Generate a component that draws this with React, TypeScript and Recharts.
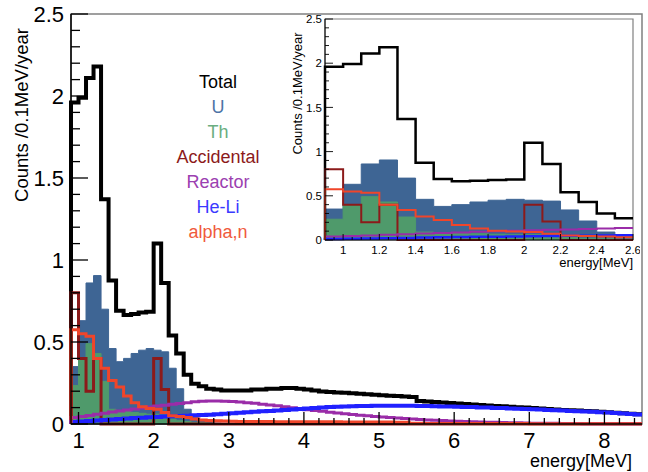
import React from 'react';
import { ComposedChart, Area, Line, XAxis, YAxis, ReferenceArea, Legend } from 'recharts';

// lower edge of each 0.1 MeV bin
const energyBins = [
  0.9, 1.0, 1.1, 1.2, 1.3, 1.4, 1.5, 1.6, 1.7, 1.8, 1.9,
  2.0, 2.1, 2.2, 2.3, 2.4, 2.5, 2.6, 2.7, 2.8, 2.9,
  3.0, 3.1, 3.2, 3.3, 3.4, 3.5, 3.6, 3.7, 3.8, 3.9,
  4.0, 4.1, 4.2, 4.3, 4.4, 4.5, 4.6, 4.7, 4.8, 4.9,
  5.0, 5.1, 5.2, 5.3, 5.4, 5.5, 5.6, 5.7, 5.8, 5.9,
  6.0, 6.1, 6.2, 6.3, 6.4, 6.5, 6.6, 6.7, 6.8, 6.9,
  7.0, 7.1, 7.2, 7.3, 7.4, 7.5, 7.6, 7.7, 7.8, 7.9,
  8.0, 8.1, 8.2, 8.3, 8.4,
];

const totalCounts = [
  1.96, 1.99, 2.11, 2.18, 1.37, 0.875, 0.69, 0.665, 0.67, 0.68, 0.685,
  1.1, 0.86, 0.54, 0.43, 0.3, 0.245, 0.23, 0.215, 0.21, 0.205,
  0.205, 0.205, 0.205, 0.21, 0.21, 0.215, 0.215, 0.22, 0.22, 0.215,
  0.21, 0.205, 0.198, 0.195, 0.192, 0.19, 0.187, 0.184, 0.181, 0.178,
  0.175, 0.172, 0.17, 0.167, 0.164, 0.14, 0.137, 0.134, 0.131, 0.128,
  0.125, 0.122, 0.119, 0.116, 0.113, 0.11, 0.108, 0.105, 0.102, 0.1,
  0.098, 0.095, 0.092, 0.089, 0.086, 0.084, 0.082, 0.079, 0.077, 0.075,
  0.072, 0.069, 0.066, 0.063, 0.06,
];

const uCounts = [
  0.35, 0.63, 0.86, 0.905, 0.7, 0.46, 0.38, 0.4, 0.43, 0.45, 0.46,
  0.45, 0.44, 0.34, 0.215, 0.09, 0.04, 0.02, 0.01, 0.005, 0,
  0, 0, 0, 0, 0, 0, 0, 0, 0, 0,
  0, 0, 0, 0, 0, 0, 0, 0, 0, 0,
  0, 0, 0, 0, 0, 0, 0, 0, 0, 0,
  0, 0, 0, 0, 0, 0, 0, 0, 0, 0,
  0, 0, 0, 0, 0, 0, 0, 0, 0, 0,
  0, 0, 0, 0, 0,
];

const thCounts = [
  0.235, 0.4, 0.49, 0.43, 0.26, 0.09, 0.08, 0.075, 0.07, 0.065, 0.06,
  0.06, 0.055, 0.03, 0.02, 0.015, 0.01, 0.008, 0.005, 0.003, 0,
  0, 0, 0, 0, 0, 0, 0, 0, 0, 0,
  0, 0, 0, 0, 0, 0, 0, 0, 0, 0,
  0, 0, 0, 0, 0, 0, 0, 0, 0, 0,
  0, 0, 0, 0, 0, 0, 0, 0, 0, 0,
  0, 0, 0, 0, 0, 0, 0, 0, 0, 0,
  0, 0, 0, 0, 0,
];

const accidentalCounts = [
  0.8, 0.4, 0.2, 0.4, 0, 0, 0, 0, 0, 0, 0,
  0.4, 0.21, 0, 0, 0, 0, 0, 0, 0, 0,
  0, 0, 0, 0, 0, 0, 0, 0, 0, 0,
  0, 0, 0, 0, 0, 0, 0, 0, 0, 0,
  0, 0, 0, 0, 0, 0, 0, 0, 0, 0,
  0, 0, 0, 0, 0, 0, 0, 0, 0, 0,
  0, 0, 0, 0, 0, 0, 0, 0, 0, 0,
  0, 0, 0, 0, 0,
];

const reactorCounts = [
  0.04, 0.045, 0.052, 0.06, 0.066, 0.073, 0.08, 0.086, 0.092, 0.098, 0.104,
  0.11, 0.115, 0.12, 0.125, 0.13, 0.135, 0.138, 0.14, 0.14, 0.139,
  0.137, 0.134, 0.13, 0.126, 0.121, 0.116, 0.111, 0.105, 0.099, 0.093,
  0.087, 0.082, 0.077, 0.072, 0.067, 0.062, 0.058, 0.054, 0.05, 0.046,
  0.042, 0.039, 0.036, 0.033, 0.03, 0.027, 0.025, 0.023, 0.021, 0.019,
  0.017, 0.015, 0.014, 0.012, 0.011, 0.01, 0.009, 0.008, 0.007, 0.006,
  0.005, 0.005, 0.004, 0.004, 0.003, 0.003, 0.003, 0.002, 0.002, 0.002,
  0.002, 0.001, 0.001, 0.001, 0.001,
];

const heliCounts = [
  0.012, 0.015, 0.018, 0.021, 0.024, 0.027, 0.03, 0.033, 0.036, 0.038, 0.041,
  0.043, 0.045, 0.047, 0.049, 0.051, 0.053, 0.055, 0.057, 0.06, 0.062,
  0.065, 0.068, 0.071, 0.074, 0.077, 0.08, 0.083, 0.086, 0.089, 0.092,
  0.095, 0.098, 0.1, 0.103, 0.105, 0.107, 0.108, 0.109, 0.11, 0.111,
  0.112, 0.112, 0.112, 0.111, 0.111, 0.11, 0.109, 0.108, 0.107, 0.106,
  0.105, 0.104, 0.103, 0.101, 0.1, 0.098, 0.097, 0.095, 0.093, 0.091,
  0.09, 0.088, 0.086, 0.084, 0.082, 0.08, 0.078, 0.076, 0.074, 0.072,
  0.07, 0.067, 0.064, 0.061, 0.058,
];

const alphaNCounts = [
  0.575, 0.55, 0.535, 0.4, 0.34, 0.265, 0.225, 0.17, 0.13, 0.105, 0.095,
  0.09, 0.07, 0.05, 0.045, 0.04, 0.03, 0.025, 0.022, 0.02, 0.018,
  0.017, 0.016, 0.016, 0.015, 0.015, 0.015, 0.014, 0.014, 0.014, 0.014,
  0.013, 0.013, 0.013, 0.013, 0.013, 0.012, 0.012, 0.012, 0.012, 0.012,
  0.012, 0.012, 0.011, 0.011, 0.004, 0.004, 0.003, 0.003, 0.003, 0.003,
  0.003, 0.003, 0.003, 0.003, 0.003, 0.003, 0.003, 0.003, 0.003, 0.003,
  0.002, 0.002, 0.002, 0.002, 0.002, 0.002, 0.002, 0.002, 0.002, 0.002,
  0.002, 0.002, 0.002, 0.002, 0.002,
];

const mainXLabels = [1, 2, 3, 4, 5, 6, 7, 8];
const mainYLabels = [0, 0.5, 1, 1.5, 2, 2.5];
const insetXLabels = [1, 1.2, 1.4, 1.6, 1.8, 2, 2.2, 2.4, 2.6];
const insetYLabels = [0, 0.5, 1, 1.5, 2, 2.5];

const FONT = '"Liberation Sans", Arial, Helvetica, sans-serif';

type Series = {
  key: string;
  name: string;
  values: number[];
  color: string;
  textColor: string;
  filled?: boolean;
  width: number;
  insetWidth: number;
};

const SERIES: Series[] = [
  { key: 'total', name: 'Total', values: totalCounts, color: '#000000', textColor: '#000000', width: 4, insetWidth: 2.5 },
  { key: 'u', name: 'U', values: uCounts, color: '#3e6594', textColor: '#4d74a6', filled: true, width: 1, insetWidth: 1 },
  { key: 'th', name: 'Th', values: thCounts, color: '#4f9a6b', textColor: '#6aae80', filled: true, width: 1, insetWidth: 1 },
  { key: 'acc', name: 'Accidental', values: accidentalCounts, color: '#8c1a1a', textColor: '#8c1a1a', width: 3, insetWidth: 2 },
  { key: 'reactor', name: 'Reactor', values: reactorCounts, color: '#9a2ca8', textColor: '#9b40b0', width: 3, insetWidth: 2 },
  { key: 'heli', name: 'He-Li', values: heliCounts, color: '#2020ff', textColor: '#3a3aff', width: 4, insetWidth: 2.5 },
  { key: 'alpha', name: 'alpha,n', values: alphaNCounts, color: '#f0452a', textColor: '#f05a3c', width: 3, insetWidth: 2 },
];

// draw order as in the original canvas
const DRAW_ORDER = ['u', 'th', 'total', 'acc', 'reactor', 'heli', 'alpha'];

const range = (from: number, to: number, step: number) => {
  const out: number[] = [];
  for (let v = from; v <= to + 1e-9; v += step) out.push(Math.round(v * 100) / 100);
  return out;
};

// histogram rows: start at zero, one row per bin, closing row at the upper edge
const buildRows = (binCount: number, upperEdge: number) => {
  const rows: Record<string, number>[] = [];
  const start: Record<string, number> = { e: energyBins[0] };
  SERIES.forEach((s) => (start[s.key] = 0));
  rows.push(start);
  for (let i = 0; i < binCount; i++) {
    const row: Record<string, number> = { e: energyBins[i] };
    SERIES.forEach((s) => (row[s.key] = s.values[i]));
    rows.push(row);
  }
  const end: Record<string, number> = { e: upperEdge };
  SERIES.forEach((s) => (end[s.key] = s.values[binCount - 1]));
  rows.push(end);
  return rows;
};

const mainRows = buildRows(energyBins.length, 8.5);
const insetRows = buildRows(17, 2.6);

const fmt = (v: number) => String(Math.round(v * 100) / 100);
const isMajor = (v: number, majors: number[]) => majors.some((m) => Math.abs(m - v) < 1e-6);

type TickCfg = { majors: number[]; majorLen: number; minorLen: number; fontSize: number; offset: number; width: number };

const makeXTick = (cfg: TickCfg) => (props: any) => {
  const { x, y, payload } = props;
  const major = isMajor(payload.value, cfg.majors);
  return (
    <g>
      <line x1={x} x2={x} y1={y} y2={y - (major ? cfg.majorLen : cfg.minorLen)} stroke="#000" strokeWidth={cfg.width} />
      {major && (
        <text x={x} y={y + cfg.offset} textAnchor="middle" fontSize={cfg.fontSize} fontFamily={FONT} fill="#000">
          {fmt(payload.value)}
        </text>
      )}
    </g>
  );
};

const makeYTick = (cfg: TickCfg) => (props: any) => {
  const { x, y, payload } = props;
  const major = isMajor(payload.value, cfg.majors);
  return (
    <g>
      <line x1={x} x2={x + (major ? cfg.majorLen : cfg.minorLen)} y1={y} y2={y} stroke="#000" strokeWidth={cfg.width} />
      {major && (
        <text x={x - cfg.offset} y={y} dy="0.36em" textAnchor="end" fontSize={cfg.fontSize} fontFamily={FONT} fill="#000">
          {fmt(payload.value)}
        </text>
      )}
    </g>
  );
};

const renderSeries = (inset: boolean) =>
  DRAW_ORDER.map((key) => {
    const s = SERIES.find((x) => x.key === key)!;
    if (s.filled) {
      return (
        <Area
          key={s.key}
          dataKey={s.key}
          name={s.name}
          type="stepAfter"
          stroke={s.color}
          strokeWidth={1}
          fill={s.color}
          fillOpacity={1}
          dot={false}
          activeDot={false}
          isAnimationActive={false}
        />
      );
    }
    return (
      <Line
        key={s.key}
        dataKey={s.key}
        name={s.name}
        type="stepAfter"
        stroke={s.color}
        strokeWidth={inset ? s.insetWidth : s.width}
        dot={false}
        activeDot={false}
        isAnimationActive={false}
      />
    );
  });

const LegendText = () => (
  <div style={{ fontFamily: FONT, fontSize: 18, lineHeight: '25px', textAlign: 'center', width: 160 }}>
    {SERIES.map((s) => (
      <div key={s.key} style={{ color: s.textColor }}>
        {s.name}
      </div>
    ))}
  </div>
);

const mainXTicks = Array.from(new Set([...mainXLabels, ...range(1.2, 8.4, 0.2)])).sort((a, b) => a - b);
const mainYTicks = range(0, 2.5, 0.1);
const insetXTicks = range(0.95, 2.6, 0.05);
const insetYTicks = range(0, 2.5, 0.1);

export default function App() {
  return (
    <div style={{ position: 'absolute', left: 0, top: 0, width: 648, height: 472, background: '#fff', fontFamily: FONT }}>
      <ComposedChart width={648} height={472} data={mainRows} margin={{ top: 14, right: 6, bottom: 0, left: 0 }}>
        <ReferenceArea x1={0.9} x2={8.5} y1={0} y2={2.5} fill="none" stroke="#808080" strokeWidth={1.5} />
        <XAxis
          type="number"
          dataKey="e"
          domain={[0.9, 8.5]}
          ticks={mainXTicks}
          interval={0}
          height={48}
          tickSize={0}
          tickMargin={0}
          tickLine={false}
          axisLine={{ stroke: '#000', strokeWidth: 1.5 }}
          tick={makeXTick({ majors: mainXLabels, majorLen: 12, minorLen: 6, fontSize: 22, offset: 24, width: 1.3 })}
          label={() => (
            <text x={632} y={467} textAnchor="end" fontSize={18} fontFamily={FONT} fill="#000">
              energy[MeV]
            </text>
          )}
        />
        <YAxis
          type="number"
          domain={[0, 2.5]}
          ticks={mainYTicks}
          interval={0}
          width={71}
          tickSize={0}
          tickMargin={0}
          tickLine={false}
          axisLine={{ stroke: '#000', strokeWidth: 1.5 }}
          tick={makeYTick({ majors: mainYLabels, majorLen: 17, minorLen: 9, fontSize: 22, offset: 7, width: 1.3 })}
          label={() => (
            <text x={28} y={115} transform="rotate(-90 28 115)" textAnchor="middle" fontSize={18.5} fontFamily={FONT} fill="#000">
              Counts /0.1MeV/year
            </text>
          )}
        />
        {renderSeries(false)}
        <Legend
          layout="vertical"
          align="center"
          verticalAlign="middle"
          wrapperStyle={{ left: 138, top: 70, width: 160 }}
          content={() => <LegendText />}
        />
      </ComposedChart>

      <div style={{ position: 'absolute', left: 280, top: 10 }}>
        <ComposedChart width={360} height={265} data={insetRows} margin={{ top: 9, right: 7, bottom: 0, left: 0 }}>
          <ReferenceArea x1={0.9} x2={2.6} y1={0} y2={2.5} fill="none" stroke="#808080" strokeWidth={1.2} />
          <XAxis
            type="number"
            dataKey="e"
            domain={[0.9, 2.6]}
            ticks={insetXTicks}
            interval={0}
            height={35}
            tickSize={0}
            tickMargin={0}
            tickLine={false}
            axisLine={{ stroke: '#000', strokeWidth: 1 }}
            tick={makeXTick({ majors: insetXLabels, majorLen: 6, minorLen: 3, fontSize: 11.5, offset: 13.5, width: 0.9 })}
            label={() => (
              <text x={353} y={257} textAnchor="end" fontSize={13} fontFamily={FONT} fill="#000">
                energy[MeV]
              </text>
            )}
          />
          <YAxis
            type="number"
            domain={[0, 2.5]}
            ticks={insetYTicks}
            interval={0}
            width={45}
            tickSize={0}
            tickMargin={0}
            tickLine={false}
            axisLine={{ stroke: '#000', strokeWidth: 1 }}
            tick={makeYTick({ majors: insetYLabels, majorLen: 8, minorLen: 4, fontSize: 11.5, offset: 3, width: 0.9 })}
            label={() => (
              <text x={21.5} y={83.5} transform="rotate(-90 21.5 83.5)" textAnchor="middle" fontSize={13} fontFamily={FONT} fill="#000">
                Counts /0.1MeV/year
              </text>
            )}
          />
          {renderSeries(true)}
        </ComposedChart>
      </div>
    </div>
  );
}
